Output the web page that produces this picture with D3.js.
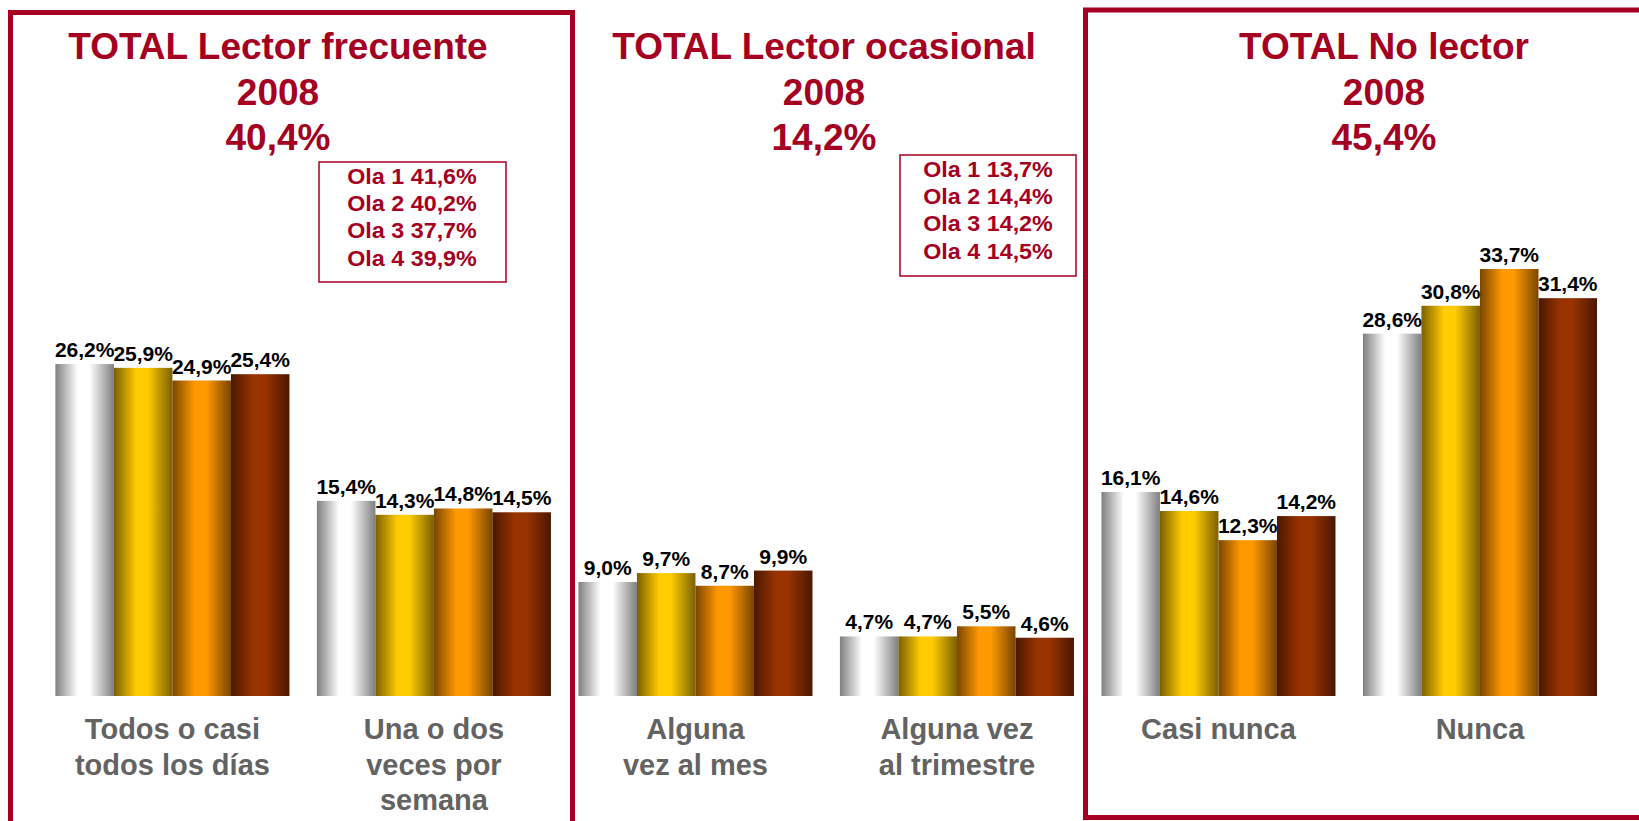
<!DOCTYPE html>
<html>
<head>
<meta charset="utf-8">
<script src="https://cdn.jsdelivr.net/npm/d3@7"></script>
<style>
  html, body { margin: 0; padding: 0; background: #fff; }
  svg { display: block; font-family: "Liberation Sans", Arial, sans-serif; }
</style>
</head>
<body>
<svg width="1639" height="821"></svg>
<script>
const RED = '#a50021';
const LABEL_GREY = '#636363';

// categories (label lines), one per bar group
const categories = ['Todos o casi todos los días', 'Una o dos veces por semana',
    'Alguna vez al mes', 'Alguna vez al trimestre', 'Casi nunca', 'Nunca'];
const categoryLines = [
    ['Todos o casi', 'todos los días'],
    ['Una o dos', 'veces por', 'semana'],
    ['Alguna', 'vez al mes'],
    ['Alguna vez', 'al trimestre'],
    ['Casi nunca'],
    ['Nunca']
];

// series: one array per wave
const waves = ['Ola 1', 'Ola 2', 'Ola 3', 'Ola 4'];
const ola1 = [26.2, 15.4, 9.0, 4.7, 16.1, 28.6];
const ola2 = [25.9, 14.3, 9.7, 4.7, 14.6, 30.8];
const ola3 = [24.9, 14.8, 8.7, 5.5, 12.3, 33.7];
const ola4 = [25.4, 14.5, 9.9, 4.6, 14.2, 31.4];

// panel headings
const panelTitles = ['TOTAL Lector frecuente', 'TOTAL Lector ocasional', 'TOTAL No lector'];
const panelYear = ['2008', '2008', '2008'];
const panelTotals = [40.4, 14.2, 45.4];
const frecuenteByWave = [41.6, 40.2, 37.7, 39.9];
const ocasionalByWave = [13.7, 14.4, 14.2, 14.5];

const fmt = (v) => d3.format('.1f')(v).replace('.', ',') + '%';

const seriesValues = [ola1, ola2, ola3, ola4];
var data = categories.map((c, i) => ({
    category: c,
    values: waves.map((w, j) => ({ wave: w, value: seriesValues[j][i] }))
}));

var svg = d3.select('svg');

/* gradients, dark at the edges and light in the middle */
const gradColors = [
    ['#7f7f7f', '#ffffff'],
    ['#7a6000', '#ffcc00'],
    ['#7a4500', '#ff9900'],
    ['#4a1800', '#993300']
];
var defs = svg.append('defs');
gradColors.forEach((c, i) => {
    var g = defs.append('linearGradient')
        .attr('id', 'grad' + i)
        .attr('x1', '0%').attr('x2', '100%')
        .attr('y1', '0%').attr('y2', '0%');
    g.append('stop').attr('offset', '0%').attr('stop-color', c[0]);
    g.append('stop').attr('offset', '38%').attr('stop-color', c[1]);
    g.append('stop').attr('offset', '58%').attr('stop-color', c[1]);
    g.append('stop').attr('offset', '100%').attr('stop-color', c[0]);
});

/* panel frames */
svg.append('path')
    .attr('d', 'M10.5,830 V12.5 H572.5 V830')
    .attr('fill', 'none').attr('stroke', RED).attr('stroke-width', 5);
svg.append('path')
    .attr('d', 'M1650,10 H1085.5 V817.5 H1650')
    .attr('fill', 'none').attr('stroke', RED).attr('stroke-width', 5);

/* scales */
var x0 = d3.scaleBand()
    .domain(categories)
    .range([55.4, 1597])
    .paddingInner(0.105)
    .paddingOuter(0);

var x1 = d3.scaleBand()
    .domain(waves)
    .range([0, x0.bandwidth()])
    .padding(0);

var y = d3.scaleLinear()
    .domain([0, 35])
    .range([696, 696 - 35 * 12.67]);

/* bars */
var groups = svg.append('g').selectAll('g')
    .data(data)
    .join('g')
    .attr('transform', d => 'translate(' + x0(d.category) + ',0)');

groups.selectAll('rect')
    .data(d => d.values)
    .join('rect')
    .attr('x', d => x1(d.wave))
    .attr('y', d => y(d.value))
    .attr('width', x1.bandwidth())
    .attr('height', d => y(0) - y(d.value))
    .attr('fill', (d, i) => 'url(#grad' + i + ')');

groups.selectAll('text')
    .data(d => d.values)
    .join('text')
    .attr('x', d => x1(d.wave) + x1.bandwidth() / 2)
    .attr('y', d => y(d.value) - 7)
    .attr('text-anchor', 'middle')
    .attr('font-size', 21)
    .attr('font-weight', 'bold')
    .attr('fill', '#000')
    .text(d => fmt(d.value));

/* category labels */
categories.forEach((c, i) => {
    var t = svg.append('text')
        .attr('text-anchor', 'middle')
        .attr('font-size', 29)
        .attr('font-weight', 'bold')
        .attr('fill', LABEL_GREY);
    categoryLines[i].forEach((line, k) => {
        t.append('tspan')
            .attr('x', x0(c) + x0.bandwidth() / 2)
            .attr('y', 739 + k * 35.5)
            .text(line);
    });
});

/* panel titles */
const titleX = [278, 824, 1384];
panelTitles.forEach((title, i) => {
    var t = svg.append('text')
        .attr('text-anchor', 'middle')
        .attr('font-size', 37)
        .attr('font-weight', 'bold')
        .attr('fill', RED);
    [title, panelYear[i], fmt(panelTotals[i])].forEach((line, k) => {
        t.append('tspan')
            .attr('x', titleX[i])
            .attr('y', 59 + k * 45.5)
            .text(line);
    });
});

/* wave boxes */
function waveBox(values, box, cx, firstBaseline) {
    svg.append('rect')
        .attr('x', box[0]).attr('y', box[1])
        .attr('width', box[2] - box[0]).attr('height', box[3] - box[1])
        .attr('fill', 'none').attr('stroke', RED).attr('stroke-width', 1.5);
    values.forEach((v, k) => {
        svg.append('text')
            .attr('transform', 'translate(' + cx + ',' + (firstBaseline + k * 27.2) + ') scale(1.06,1)')
            .attr('text-anchor', 'middle')
            .attr('font-size', 22)
            .attr('font-weight', 'bold')
            .attr('fill', RED)
            .text(waves[k] + ' ' + fmt(v));
    });
}
waveBox(frecuenteByWave, [319, 162, 506, 282], 412, 184);
waveBox(ocasionalByWave, [900, 155, 1076, 276], 988, 177);
</script>
</body>
</html>
